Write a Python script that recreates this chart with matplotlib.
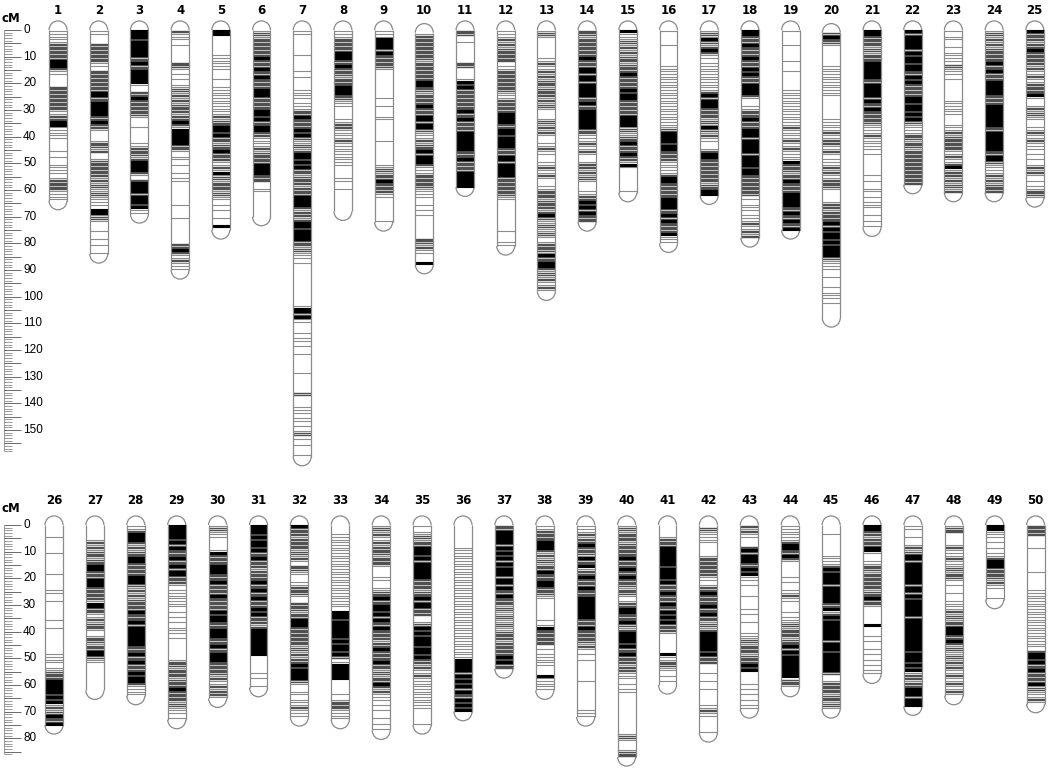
import matplotlib.pyplot as plt
from matplotlib.patches import Arc

# linkage groups, top row and bottom row
top_names = [str(i) for i in range(1, 26)]
bottom_names = [str(i) for i in range(26, 51)]

# cM where each group starts (10 and 20 start a little lower)
top_start = [0] * 9 + [1] + [0] * 9 + [1] + [0] * 5
bottom_start = [0] * 25

# markers per 1 cM bin, 0 = empty ... 3 = solid black
# (spaces every 10 cM are only there for reading)
top_bins = [
    "1111122222 2333211000 0222222222 1122331111 1000010100 1111012222 1111",
    "1100022222 2211022222 2223322333 3322322100 0122120012 2222212121 1211110331 2100010010 1001",
    "3332333333 2232233333 1002232222 2210001000 0011222123 3332102333 323332311",
    "2111010000 0022101010 1121212122 2122321333 3332210110 1001011000 0000010000 1000000000 2232112111",
    "3300000001 1111100010 0111111111 1121223323 2212232221 1213121222 1211010100 10030",
    "1212222222 3222322322 2233322222 3323223322 1111212222 3333222001 1000000000",
    "1100000001 0000010100 0011110111 2232222323 2112123323 2322122212 2233332122 1233233332 "
    "2121110100 0000000000 0001332311 0001011010 0100000010 0000002000 0111011010 1201010001",
    "1112222233 3223222122 2333221110 0001122111 1211111111 1000011001 00000000",
    "1113333232 2222100000 0000010010 0011000000 0100000000 1121223222 2110000000 01",
    "0122222222 2122222223 3221222232 2233233211 1212232333 2111222221 1110010101 0000000022 12110003",
    "2200100000 0022000013 2322222222 3223222233 3333322232 222333333",
    "1112121222 2201122222 2221112222 2333322332 3333222332 3333322222 2211000000 0000010001 1",
    "1210000000 1121121212 2122212121 0001212121 0011211001 1211210011 2221222123 2112112101 "
    "2221322332 12121121",
    "2212222222 3222332332 3333322322 3333333221 1121121001 2212121000 1122323232 22",
    "3111212121 2212223222 2232332222 2233331211 2232223221 3100000000 1",
    "1000010000 0001111111 1111111111 1111111233 3323322221 1111233222 2223333223 2322223111",
    "1213212321 1011111111 1112323332 2221213212 1100123322 2222222122 33",
    "3322232222 3222323222 3333210011 2223222333 2333332333 3233222222 2201011101 11211212",
    "1000010000 0100010000 0011111111 1111112111 1211211113 2221223222 2333332232 23223",
    "0232210000 0001111111 1111100000 0001111121 1221121011 1212112221 0000122122 2232323323 "
    "2333321111 0010001011 10100000",
    "3322221212 2233333322 3333323223 2222211112 1111101000 0000101001 1010111001 0101",
    "3233333232 3323322323 2222233233 2323211112 2122122222 22222222",
    "1011001011 1102111010 0000001111 1100011121 2222211211 2312212121 2",
    "1212121222 2232232223 3333222233 3333332233 3333322332 1111212122 2",
    "3222122322 2221211211 2222310012 1211001121 1211101010 1212101011 221",
]

bottom_bins = [
    "0000100000 1000000010 0000110010 0000010010 0000000011 1101122233 3332323121 23223",
    "0000012121 2212233222 3332222213 3221121221 0122122332 1100000000 00",
    "1123332121 2233222223 3321212122 2232223233 3333322232 2322232332 1111",
    "3333323232 2232232332 2210111111 1010101011 1010000000 1221222122 2322221211 101",
    "1211100001 3222233322 2322223222 2232332223 3322232233 3222221211 21221",
    "3332323323 2232221222 2322322322 2323222123 3333333330 0000010100 1",
    "3222122221 2121022110 0112221002 2212233322 2222212121 2232333321 0011011121 11",
    "0001111111 1111111111 1111111111 1033323333 3323233232 0133333300 0001012221 111",
    "1212112122 2122210001 1001122322 3323232232 2221223222 2322121223 2121110101 0010101",
    "1011212233 3232333333 2222122323 3222001232 3233323323 2212112111 1111111110 00001",
    "0000000011 1111111111 1111111111 1111111111 1111111111 3333323232 3232232323",
    "2233333232 3232323332 3323223222 1211211211 2221222223 2322",
    "1122223332 1212122322 2332221100 0000010132 2222201011 1110003111 11",
    "1112122322 2132231223 2223222333 3333322232 2222121010 1000000010 0000000001 11",
    "1212221222 2232223223 2221221012 2332223212 3333232232 2212211101 0110000000 0000000012 1000122",
    "0000122233 3333323333 2322232223 2232323222 1000000031 1221101010",
    "0211111000 0122222221 1012232222 3223221212 3333333232 2200010010 0100000112 11000001",
    "2121100023 2333223231 1010001000 0101001000 1112122212 2232300001 010101011",
    "1111112332 2321000001 0100112110 0010111212 2212232323 3333333022 1",
    "0001000000 0111123233 3323333332 2312323333 3332333233 3333320012 222122121",
    "3322122233 1001122122 2222122322 1000000300 0101001010 101011",
    "1100100121 2332333333 3323323233 3333233333 3333333233 3232312212 23332333",
    "1220000121 1121112122 1010010011 1121212233 3223212112 1212112112 1121",
    "3311101010 1123332222 12110001",
    "2222000010 0000000100 0000111111 1111111111 1111110233 2322322223 1211121",
]

top_ruler_max = 158
top_ruler_labels = list(range(0, 160, 10))
bottom_ruler_max = 86
bottom_ruler_labels = list(range(0, 90, 10))

PX_PER_CM = 2.667
W = 0.44      # chromosome width in group units
R = 3.4       # cap radius in cM
# colour and line width for each bin density
shades = {1: ("#8c8c8c", 0.8), 2: ("#505050", 1.0), 3: ("#000000", 0.8)}
edge = "#8a8a8a"

fig = plt.figure(figsize=(10.52, 7.69), dpi=100)


def draw_panel(names, bins, starts, ruler_max, ruler_labels, top_px, bot_px, y0_px, x0_px, step_px):
    ax = fig.add_axes([0, 1 - bot_px / 769, 1, (bot_px - top_px) / 769])
    ax.set_xlim(1 - x0_px / step_px, 1 + (1052 - x0_px) / step_px)
    ax.set_ylim((bot_px - y0_px) / PX_PER_CM, (top_px - y0_px) / PX_PER_CM)
    ax.axis("off")

    def px(x):
        return 1 + (x - x0_px) / step_px

    for k, (name, code, s) in enumerate(zip(names, bins, starts), start=1):
        code = code.replace(" ", "")
        length = len(code)
        for n, (col, lw) in shades.items():
            ys = []
            for cm, ch in enumerate(code):
                if int(ch) == n:
                    ys += [cm + (j + 0.5) / n for j in range(n)]
            ax.hlines(ys, k - W / 2, k + W / 2, colors=col, lw=lw)
        ax.vlines([k - W / 2, k + W / 2], s, length, colors=edge, lw=0.9)
        ax.add_patch(Arc((k, s), W, 2 * R, theta1=180, theta2=360, color=edge, lw=0.9))
        ax.add_patch(Arc((k, length), W, 2 * R, theta1=0, theta2=180, color=edge, lw=0.9))
        ax.text(k, (top_px + 10 - y0_px) / PX_PER_CM, name, ha="center", va="center",
                fontsize=8.5, fontweight="bold", family="DejaVu Sans")

    # cM ruler
    xr = px(4)
    ax.vlines(xr, 0, ruler_max, colors=edge, lw=0.6)
    minor = [c for c in range(ruler_max + 1) if c % 5]
    major = [c for c in range(ruler_max + 1) if c % 5 == 0]
    ax.hlines(minor, xr, px(12), colors=edge, lw=0.6)
    ax.hlines(major, xr, px(21), colors="#6a6a6a", lw=0.7)
    for c in ruler_labels:
        ax.text(px(23), c, str(c), ha="left", va="center", fontsize=8.5,
                family="Liberation Sans", color="black")
    ax.text(px(11), (top_px + 19 - y0_px) / PX_PER_CM, "cM", ha="center", va="center",
            fontsize=8.5, fontweight="bold", family="DejaVu Sans")


draw_panel(top_names, top_bins, top_start, top_ruler_max, top_ruler_labels,
           0, 470, 30, 58, 40.7)
draw_panel(bottom_names, bottom_bins, bottom_start, bottom_ruler_max, bottom_ruler_labels,
           490, 769, 525, 54, 40.9)

fig.savefig("out.png", dpi=100, facecolor="white")
